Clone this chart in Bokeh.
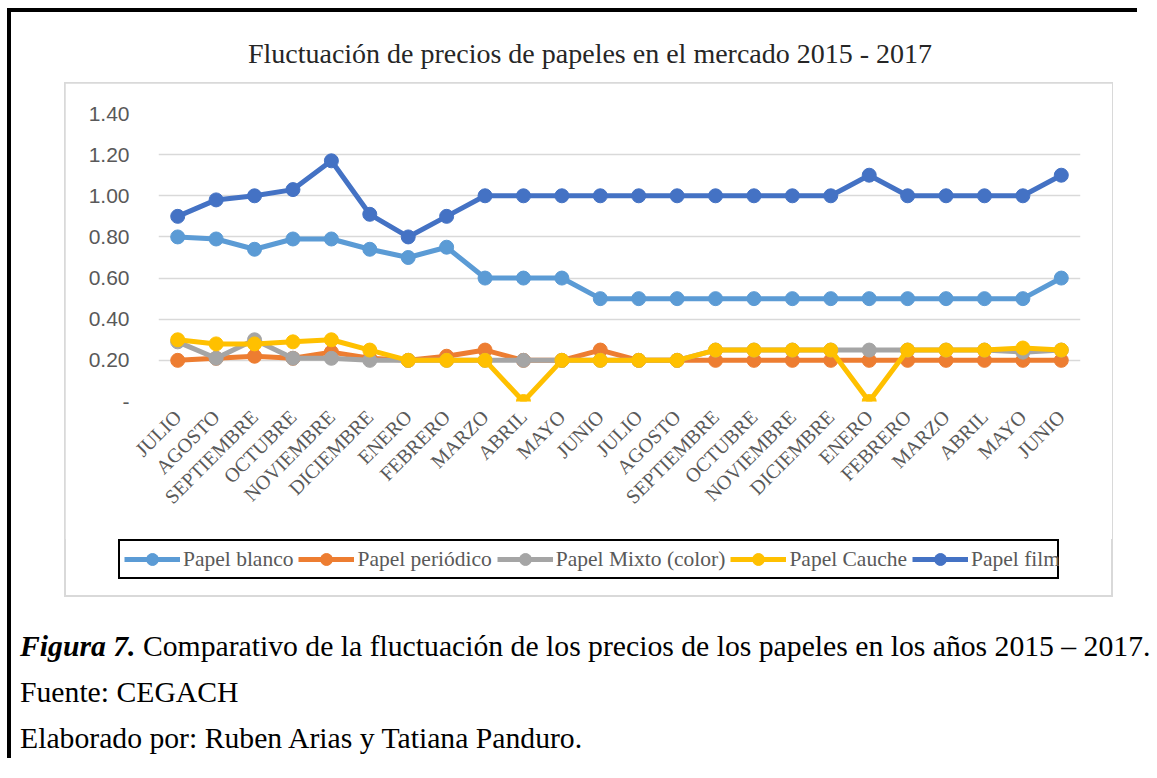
import math
from bokeh.plotting import figure
from bokeh.layouts import column
from bokeh.models import Range1d, FixedTicker, Legend, LegendItem, Div
from bokeh.embed import file_html
from bokeh.resources import INLINE

# ---------------- data ----------------
months = ["JULIO", "AGOSTO", "SEPTIEMBRE", "OCTUBRE", "NOVIEMBRE", "DICIEMBRE",
          "ENERO", "FEBRERO", "MARZO", "ABRIL", "MAYO", "JUNIO",
          "JULIO", "AGOSTO", "SEPTIEMBRE", "OCTUBRE", "NOVIEMBRE", "DICIEMBRE",
          "ENERO", "FEBRERO", "MARZO", "ABRIL", "MAYO", "JUNIO"]

papel_blanco = [0.80, 0.79, 0.74, 0.79, 0.79, 0.74, 0.70, 0.75, 0.60, 0.60, 0.60, 0.50,
                0.50, 0.50, 0.50, 0.50, 0.50, 0.50, 0.50, 0.50, 0.50, 0.50, 0.50, 0.60]
papel_periodico = [0.20, 0.21, 0.22, 0.21, 0.24, 0.21, 0.20, 0.22, 0.25, 0.20, 0.20, 0.25,
                   0.20, 0.20, 0.20, 0.20, 0.20, 0.20, 0.20, 0.20, 0.20, 0.20, 0.20, 0.20]
papel_mixto = [0.29, 0.21, 0.30, 0.21, 0.21, 0.20, 0.20, 0.20, 0.20, 0.20, 0.20, 0.20,
               0.20, 0.20, 0.25, 0.25, 0.25, 0.25, 0.25, 0.25, 0.25, 0.25, 0.24, 0.25]
papel_cauche = [0.30, 0.28, 0.28, 0.29, 0.30, 0.25, 0.20, 0.20, 0.20, 0.00, 0.20, 0.20,
                0.20, 0.20, 0.25, 0.25, 0.25, 0.25, 0.00, 0.25, 0.25, 0.25, 0.26, 0.25]
papel_film = [0.90, 0.98, 1.00, 1.03, 1.17, 0.91, 0.80, 0.90, 1.00, 1.00, 1.00, 1.00,
              1.00, 1.00, 1.00, 1.00, 1.00, 1.00, 1.10, 1.00, 1.00, 1.00, 1.00, 1.10]

series_names = ["Papel blanco", "Papel periódico", "Papel Mixto (color)", "Papel Cauche", "Papel film"]
series_values = [papel_blanco, papel_periodico, papel_mixto, papel_cauche, papel_film]
series_colors = ["#5B9BD5", "#ED7D31", "#A5A5A5", "#FFC000", "#4472C4"]

y_ticks = [0.0, 0.2, 0.4, 0.6, 0.8, 1.0, 1.2, 1.4]
y_labels = ["-", "0.20", "0.40", "0.60", "0.80", "1.00", "1.20", "1.40"]

title_text = "Fluctuación de precios de papeles en el mercado 2015 - 2017"
caption_bold = "Figura 7."
caption_rest = "Comparativo de la fluctuación de los precios de los papeles en los años 2015 – 2017."
source_text = "Fuente: CEGACH"
author_text = "Elaborado por: Ruben Arias y Tatiana Panduro."

LINE_W = 5
MARK_SIZE = 14

# ---------------- chart ----------------
xs = list(range(len(months)))

p = figure(width=1047, height=456, output_backend="svg", toolbar_location=None,
           x_range=Range1d(-0.5, len(months) - 0.5), y_range=Range1d(0, 1.4),
           min_border_left=93, min_border_right=32, min_border_top=30, min_border_bottom=138,
           margin=0)
p.outline_line_color = None
p.background_fill_color = "white"
p.border_fill_color = "white"

p.xaxis.ticker = FixedTicker(ticks=xs)
p.xaxis.major_label_overrides = {i: m for i, m in zip(xs, months)}
p.xaxis.major_label_orientation = math.pi / 4
p.xaxis.major_label_text_font = "Liberation Serif"
p.xaxis.major_label_text_font_size = "20px"
p.xaxis.major_label_text_color = "#595959"
p.xaxis.major_label_standoff = 12
p.xaxis.major_tick_out = 0
p.xaxis.major_tick_in = 0
p.xaxis.major_tick_line_color = None
p.xaxis.minor_tick_line_color = None
p.xaxis.axis_line_color = None

p.yaxis.ticker = FixedTicker(ticks=y_ticks)
p.yaxis.major_label_overrides = {t: l for t, l in zip(y_ticks, y_labels)}
p.yaxis.major_label_text_font = "Liberation Sans"
p.yaxis.major_label_text_font_size = "21px"
p.yaxis.major_label_text_color = "#595959"
p.yaxis.major_label_standoff = 29
p.yaxis.major_tick_out = 0
p.yaxis.major_tick_in = 0
p.yaxis.major_tick_line_color = None
p.yaxis.minor_tick_line_color = None
p.yaxis.axis_line_color = None

p.xgrid.grid_line_color = None
p.ygrid.grid_line_color = "#d9d9d9"
p.ygrid.grid_line_width = 1.5

for name, vals, col in zip(series_names, series_values, series_colors):
    p.line(xs, vals, line_color=col, line_width=LINE_W)
    p.scatter(xs, vals, marker="circle", size=MARK_SIZE, fill_color=col, line_color=col)

# ---------------- legend (own small figure, boxed) ----------------
lg = figure(width=941, height=40, output_backend="svg", toolbar_location=None,
            x_axis_type=None, y_axis_type=None, min_border=0,
            x_range=Range1d(0, 1), y_range=Range1d(0, 1),
            margin=(0, 0, 0, 53), frame_align=False)
lg.outline_line_color = "black"
lg.outline_line_width = 3
lg.xgrid.grid_line_color = None
lg.ygrid.grid_line_color = None
lg.background_fill_color = "white"
lg.border_fill_color = "white"

# legend swatches: same styling as the chart series, kept outside the visible range
items = []
for name, vals, col in zip(series_names, series_values, series_colors):
    lr = lg.line(xs, vals, line_color=col, line_width=LINE_W)
    cr = lg.scatter(xs, vals, marker="circle", size=12, fill_color=col, line_color=col)
    items.append(LegendItem(label=name, renderers=[lr, cr]))
lg.x_range.start, lg.x_range.end = 100, 101

legend = Legend(items=items, orientation="horizontal", location="left",
                margin=6, padding=0, spacing=5, label_standoff=3,
                glyph_width=56, glyph_height=30,
                label_text_font="Liberation Serif", label_text_font_size="21.5px",
                label_text_color="#595959",
                border_line_color=None, background_fill_alpha=0)
lg.add_layout(legend, "center")

chart_box = column(p, lg, width=1047, height=513, margin=(0, 0, 0, 54), spacing=0,
                   styles={"outline": "2px solid #d9d9d9", "outline-offset": "-1px",
                           "background": "white"})

# ---------------- texts ----------------
title_div = Div(
    text=(f'<div style="width:1130px; box-sizing:border-box; padding-top:28px; padding-left:28px; '
          f'text-align:center; font-family:\'Liberation Serif\'; font-size:28px; line-height:28px; '
          f'color:#262626; white-space:nowrap;">{title_text}</div>'),
    width=1130, height=71, margin=0)

caption_div = Div(
    text=(f'<div style="width:1130px; padding-top:27px; padding-left:9px; font-family:\'Liberation Serif\'; '
          f'font-size:29.7px; line-height:46px; color:black; white-space:nowrap;">'
          f'<b><i>{caption_bold}</i></b> {caption_rest}<br>{source_text}<br>{author_text}</div>'),
    width=1130, height=166, margin=0)

layout = column(title_div, chart_box, caption_div, width=1130, height=750,
                margin=(12, 0, 0, 11), spacing=0,
                styles={"box-shadow": "-4px -4px 0 0 black", "background": "white"})

open("out.html", "w").write(file_html(layout, INLINE))
